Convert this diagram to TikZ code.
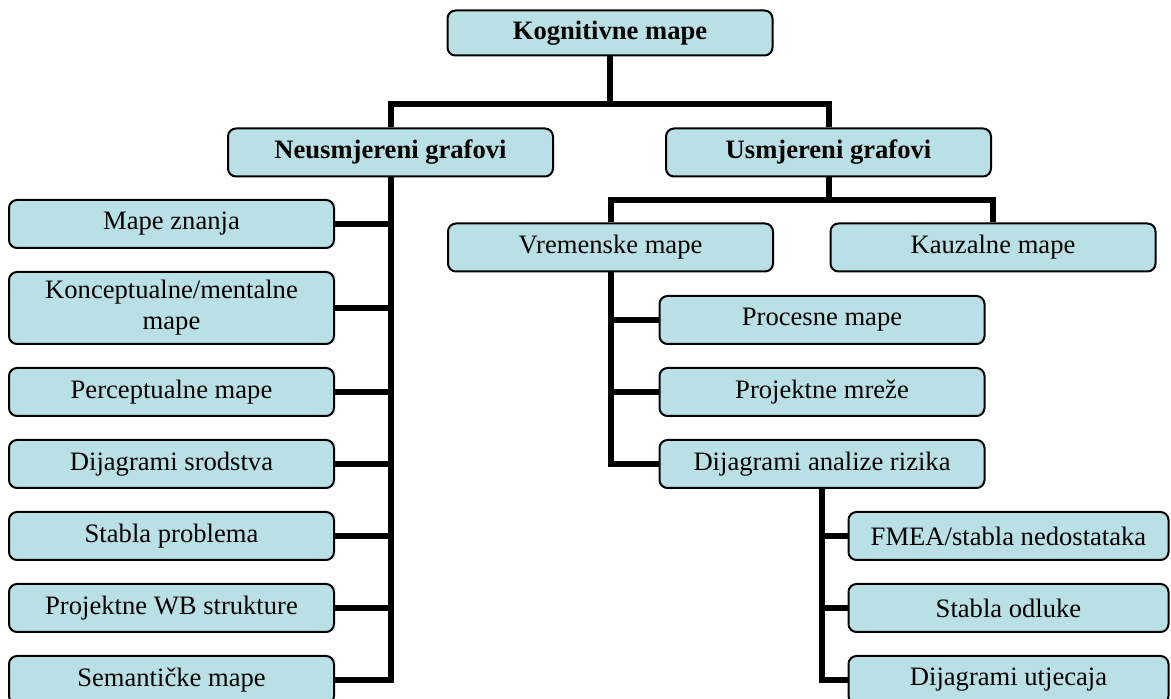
\documentclass[tikz,border=0pt]{standalone}
\usepackage{fontspec}
\setmainfont{Liberation Serif}
\usetikzlibrary{backgrounds}
\definecolor{boxfill}{RGB}{185,224,228}
\tikzset{
  mapbox/.style={draw=black, line width=2pt, rounded corners=8pt, fill=boxfill,
    minimum width=325pt, minimum height=48pt, inner sep=0pt, align=center,
    font=\fontsize{26.6}{31}\selectfont},
  headbox/.style={mapbox, font=\fontsize{26.6}{31}\selectfont\bfseries},
  conn/.style={line width=6pt, line join=miter, line cap=butt}
}
\begin{document}
\begin{tikzpicture}[x=1pt, y=1pt]
\useasboundingbox (0,0) rectangle (1171,699);

% top level
\node[headbox, minimum height=45pt] (root) at (610,666) {Kognitivne mape};
\node[headbox] (nu) at (390.5,546.5) {Neusmjereni grafovi};
\node[headbox] (us) at (828.5,546.5) {Usmjereni grafovi};

% undirected graphs
\node[mapbox] (mz) at (171.5,475) {Mape znanja};
\node[mapbox, minimum height=72pt] (km) at (171.5,391) {Konceptualne/mentalne\\mape};
\node[mapbox] (pm) at (171.5,307) {Perceptualne mape};
\node[mapbox] (ds) at (171.5,235) {Dijagrami srodstva};
\node[mapbox] (sp) at (171.5,163) {Stabla problema};
\node[mapbox] (pw) at (171.5,91) {Projektne WB strukture};
\node[mapbox] (sm) at (171.5,19) {Semantičke mape};

% directed graphs
\node[mapbox] (vm) at (610.5,451.5) {Vremenske mape};
\node[mapbox] (kz) at (993,451.5) {Kauzalne mape};
\node[mapbox] (pr) at (822,379) {Procesne mape};
\node[mapbox] (pj) at (822,307) {Projektne mreže};
\node[mapbox] (da) at (822,235) {Dijagrami analize rizika};
\node[mapbox, minimum width=320pt] (fm) at (1008.5,163) {FMEA/stabla nedostataka};
\node[mapbox, minimum width=320pt] (so) at (1008.5,91) {Stabla odluke};
\node[mapbox, minimum width=320pt] (du) at (1008.5,19) {Dijagrami utjecaja};

\coordinate (b1) at (610,594.5);
\coordinate (b2) at (828.5,499);

\begin{scope}[on background layer]
  \draw[conn] (root.south) -- (b1);
  \draw[conn] (nu.north) |- (b1) -| (us.north);
  % left column
  \draw[conn] (nu.south) |- (sm.east);
  \foreach \n in {mz,km,pm,ds,sp,pw}
    \draw[conn] (\n.east) -- (\n.east -| nu.south);
  % right side
  \draw[conn] (us.south) -- (b2);
  \draw[conn] (vm.north) |- (b2) -| (kz.north);
  \draw[conn] (vm.south) |- (da.west);
  \foreach \n in {pr,pj}
    \draw[conn] (\n.west) -- (\n.west -| vm.south);
  \draw[conn] (da.south) |- (du.west);
  \foreach \n in {fm,so}
    \draw[conn] (\n.west) -- (\n.west -| da.south);
\end{scope}
\end{tikzpicture}
\end{document}
